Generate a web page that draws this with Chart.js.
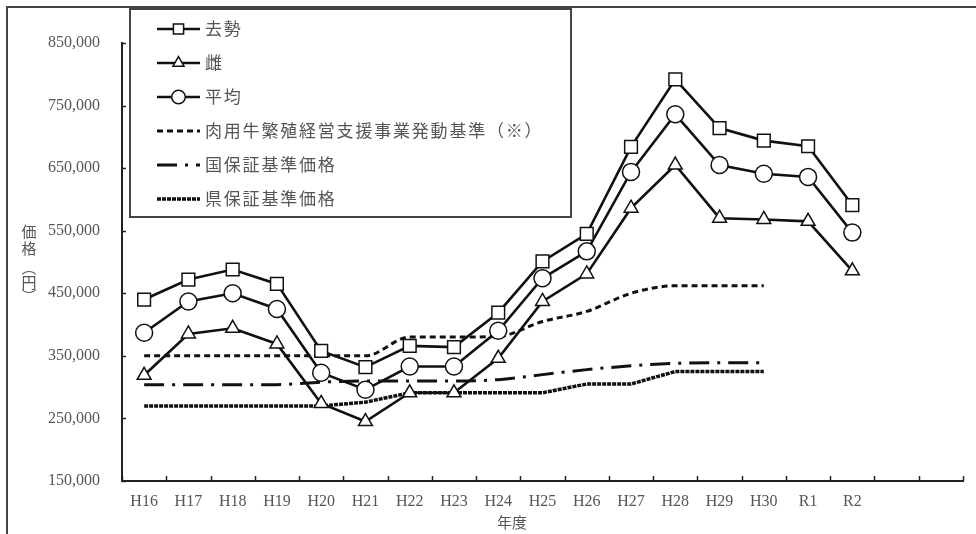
<!DOCTYPE html>
<html>
<head>
<meta charset="utf-8">
<script src="https://cdn.jsdelivr.net/npm/chart.js@4.4.1/dist/chart.umd.min.js"></script>
<style>
  html, body { margin: 0; padding: 0; background: #fff; }
  #wrap { width: 976px; height: 534px; position: relative; }
</style>
</head>
<body>
<div id="wrap"><canvas id="c"></canvas></div>
<script>
// 年度（右端の2枠は空欄）
const years = ['H16','H17','H18','H19','H20','H21','H22','H23','H24','H25','H26','H27','H28','H29','H30','R1','R2','',''];

// 子牛価格（円）
const steerPrice   = [440000, 472000, 488000, 465000, 358000, 332000, 366000, 364000, 419000, 501000, 545000, 684000, 792000, 714000, 694000, 685000, 591000];
const heiferPrice  = [319000, 385000, 394000, 369000, 274000, 245000, 291000, 291000, 346000, 437000, 481000, 586000, 655000, 570000, 568000, 565000, 486000];
const averagePrice = [387000, 437000, 450000, 425000, 323000, 296000, 333000, 333000, 390000, 474000, 517000, 644000, 736000, 655000, 641000, 636000, 547000];

// 基準価格（H16～H30）
const triggerPrice   = [350000, 350000, 350000, 350000, 350000, 350000, 380000, 380000, 381000, 405000, 421000, 450000, 462000, 462000, 462000];
const nationalPrice  = [304000, 304000, 304000, 304000, 308000, 310000, 310000, 310000, 312000, 320000, 328000, 334000, 338000, 339000, 339000];
const prefPrice      = [270000, 270000, 270000, 270000, 270000, 276000, 291000, 291000, 291000, 291000, 305000, 305000, 325000, 325000, 325000];

const seriesNames = ['去勢', '雌', '平均', '肉用牛繁殖経営支援事業発動基準（※）', '国保証基準価格', '県保証基準価格'];

// 縦軸目盛
const yTickValues = [150000, 250000, 350000, 450000, 550000, 650000, 750000, 850000];
const yTickLabels = ['150,000', '250,000', '350,000', '450,000', '550,000', '650,000', '750,000', '850,000'];

const yTitleChars = ['価', '格', '︵', '円', '︶'];
const xTitle = '年度';

const INK = '#111';
const TEXT = '#555';

function markerSeries(label, data, style, radius) {
  return {
    label, data,
    borderColor: INK, borderWidth: 2.6,
    pointStyle: style, pointRadius: radius, pointHoverRadius: radius,
    pointBackgroundColor: '#fff', pointBorderColor: INK, pointBorderWidth: 1.5,
    tension: 0, fill: false
  };
}
function refSeries(label, data, dash, width, smooth) {
  return {
    label, data,
    borderColor: INK, borderWidth: width, borderDash: dash,
    pointRadius: 0, pointHoverRadius: 0,
    cubicInterpolationMode: smooth ? 'monotone' : 'default',
    tension: 0, fill: false
  };
}

// 外枠・縦軸タイトル・年度
const framePlugin = {
  id: 'frame',
  beforeDraw(chart) {
    const ctx = chart.ctx;
    ctx.save();
    ctx.fillStyle = '#fff';
    ctx.fillRect(0, 0, chart.width, chart.height);
    ctx.strokeStyle = '#444';
    ctx.lineWidth = 2;
    ctx.beginPath();
    ctx.moveTo(7, chart.height);
    ctx.lineTo(7, 7);
    ctx.lineTo(chart.width, 7);
    ctx.stroke();
    ctx.restore();
  },
  afterDraw(chart) {
    const ctx = chart.ctx;
    ctx.save();
    ctx.fillStyle = TEXT;
    ctx.font = '15px "Noto Sans CJK JP"';
    ctx.textAlign = 'center';
    ctx.textBaseline = 'middle';
    const ys = [231, 248, 267, 282, 296];
    yTitleChars.forEach((ch, i) => ctx.fillText(ch, 29, ys[i]));
    ctx.fillText(xTitle, 512, 522);
    ctx.restore();
  }
};

// 内向きの目盛線
const innerTicksPlugin = {
  id: 'innerTicks',
  afterDraw(chart) {
    const ctx = chart.ctx;
    const area = chart.chartArea;
    const xs = chart.scales.x, ys = chart.scales.y;
    ctx.save();
    ctx.strokeStyle = '#222';
    ctx.lineWidth = 1.5;
    ctx.beginPath();
    ys.ticks.forEach(t => {
      const py = Math.round(ys.getPixelForValue(t.value)) + 0.5;
      ctx.moveTo(area.left, py);
      ctx.lineTo(area.left + 4, py);
    });
    for (let i = 0; i <= years.length; i++) {
      const px = Math.round(xs.getPixelForValue(i - 0.5)) + 0.5;
      ctx.moveTo(px, area.bottom);
      ctx.lineTo(px, area.bottom - 5);
    }
    ctx.stroke();
    ctx.restore();
  }
};

// 凡例（枠付き）
const boxLegendPlugin = {
  id: 'boxLegend',
  afterDraw(chart) {
    const ctx = chart.ctx;
    const box = { x: 130, y: 9, w: 441, h: 208 };
    ctx.save();
    ctx.fillStyle = '#fff';
    ctx.fillRect(box.x, box.y, box.w, box.h);
    ctx.strokeStyle = '#444';
    ctx.lineWidth = 2;
    ctx.strokeRect(box.x, box.y, box.w, box.h);

    const x0 = 157, x1 = 200, step = 34, top = 29;
    chart.data.datasets.forEach((ds, i) => {
      const y = top + i * step;
      ctx.save();
      ctx.strokeStyle = ds.borderColor;
      ctx.lineWidth = ds.borderWidth;
      ctx.setLineDash(ds.borderDash || []);
      ctx.beginPath();
      ctx.moveTo(x0, y);
      ctx.lineTo(x1, y);
      ctx.stroke();
      ctx.restore();
      if (ds.pointRadius > 0) {
        ctx.save();
        ctx.fillStyle = '#fff';
        ctx.strokeStyle = ds.pointBorderColor;
        ctx.lineWidth = ds.pointBorderWidth;
        Chart.helpers.drawPoint(ctx, {
          pointStyle: ds.pointStyle, rotation: 0,
          radius: ds.pointRadius * 0.8, borderWidth: ds.pointBorderWidth
        }, (x0 + x1) / 2, y);
        ctx.restore();
      }
      ctx.save();
      ctx.fillStyle = TEXT;
      ctx.font = '17px "Noto Sans CJK JP"';
      if ('letterSpacing' in ctx) ctx.letterSpacing = '1.8px';
      ctx.textAlign = 'left';
      ctx.textBaseline = 'middle';
      ctx.fillText(ds.label, 205, y);
      ctx.restore();
    });
    ctx.restore();
  }
};

new Chart(document.getElementById('c'), {
  type: 'line',
  data: {
    labels: years,
    datasets: [
      markerSeries(seriesNames[0], steerPrice, 'rect', 9),
      markerSeries(seriesNames[1], heiferPrice, 'triangle', 8),
      markerSeries(seriesNames[2], averagePrice, 'circle', 8.5),
      refSeries(seriesNames[3], triggerPrice, [6, 4], 3, true),
      refSeries(seriesNames[4], nationalPrice, [20, 8, 3, 8], 3, true),
      refSeries(seriesNames[5], prefPrice, [4, 1], 3.5, false)
    ]
  },
  options: {
    responsive: true,
    maintainAspectRatio: false,
    animation: false,
    events: [],
    layout: { padding: { top: 43, right: 13, left: 0, bottom: 0 } },
    plugins: {
      legend: { display: false },
      tooltip: { enabled: false }
    },
    scales: {
      x: {
        type: 'category',
        offset: true,
        grid: { display: false, drawTicks: false },
        border: { display: true, color: '#222', width: 2 },
        ticks: {
          color: TEXT,
          font: { family: '"Liberation Serif"', size: 16 },
          padding: 11,
          autoSkip: false,
          maxRotation: 0
        },
        afterFit(s) { s.height = 53; }
      },
      y: {
        min: 150000,
        max: 850000,
        grid: { display: false, drawTicks: false },
        border: { display: true, color: '#222', width: 2 },
        afterBuildTicks(s) { s.ticks = yTickValues.map(v => ({ value: v })); },
        ticks: {
          color: TEXT,
          font: { family: '"Liberation Serif"', size: 16 },
          padding: 22,
          callback(v) {
            const i = yTickValues.indexOf(v);
            return i >= 0 ? yTickLabels[i] : '';
          }
        },
        afterFit(s) { s.width = 122; }
      }
    }
  },
  plugins: [framePlugin, innerTicksPlugin, boxLegendPlugin]
});
</script>
</body>
</html>
